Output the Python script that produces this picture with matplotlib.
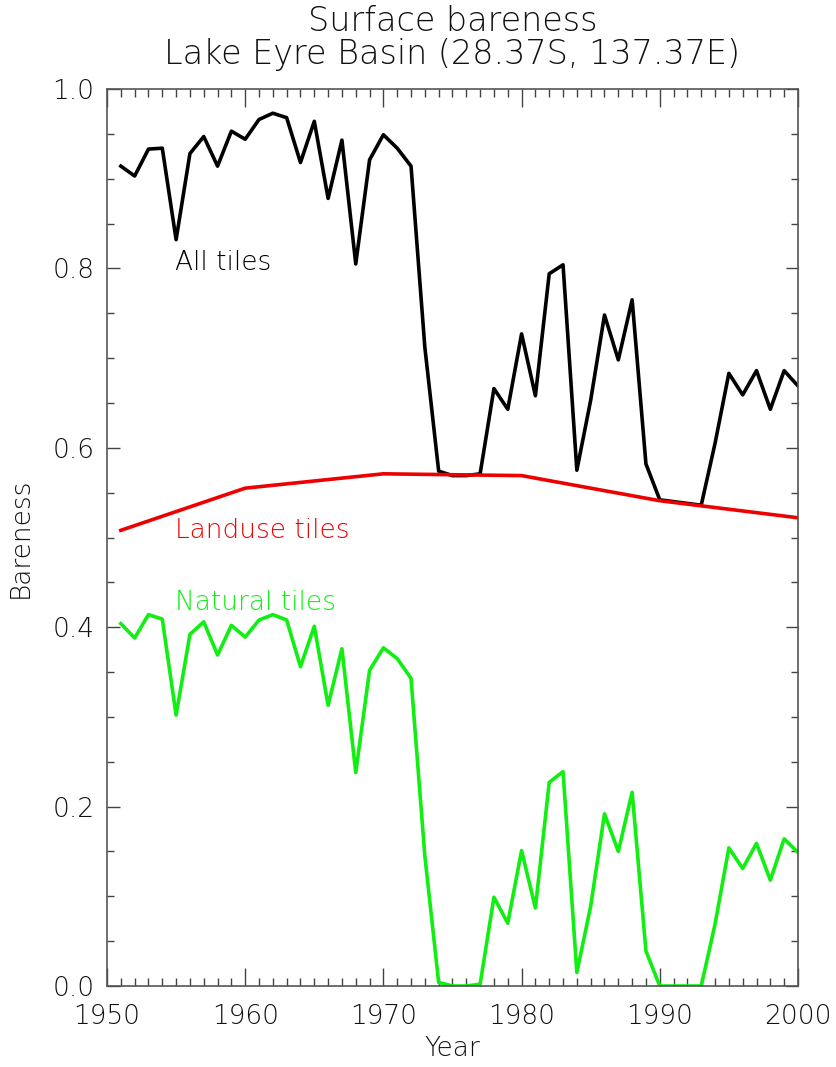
# Surface bareness time series for the Lake Eyre Basin grid cell
import matplotlib.pyplot as plt
from matplotlib.ticker import MultipleLocator

years = list(range(1951, 2001))

all_tiles = [0.914, 0.903, 0.933, 0.934, 0.832, 0.928, 0.947, 0.914, 0.953, 0.944,
             0.966, 0.973, 0.968, 0.918, 0.964, 0.878, 0.943, 0.805, 0.921, 0.949,
             0.934, 0.914, 0.712, 0.574, 0.569, 0.569, 0.571, 0.666, 0.643, 0.727,
             0.658, 0.794, 0.804, 0.575, 0.653, 0.748, 0.698, 0.765, 0.582, 0.542,
             0.540, 0.538, 0.536, 0.605, 0.683, 0.659, 0.686, 0.643, 0.686, 0.669]

natural_tiles = [0.404, 0.388, 0.414, 0.409, 0.302, 0.392, 0.406, 0.369, 0.402, 0.389,
                 0.408, 0.414, 0.408, 0.356, 0.401, 0.313, 0.376, 0.238, 0.352, 0.377,
                 0.365, 0.343, 0.145, 0.004, 0.000, 0.000, 0.002, 0.099, 0.070, 0.151,
                 0.087, 0.227, 0.239, 0.015, 0.089, 0.192, 0.150, 0.216, 0.039, 0.000,
                 0.000, 0.000, 0.000, 0.069, 0.154, 0.131, 0.159, 0.118, 0.164, 0.149]

# land use fraction is only given at these years
landuse_years = [1951, 1960, 1970, 1980, 1990, 2000]
landuse_tiles = [0.508, 0.555, 0.571, 0.569, 0.541, 0.522]

plt.rcParams['font.family'] = ['DejaVu Sans']
plt.rcParams['font.weight'] = 'light'
plt.rcParams['axes.titleweight'] = 'light'
plt.rcParams['axes.labelweight'] = 'light'
text_col = '#111111'

fig = plt.figure(figsize=(8.36, 10.67), dpi=100)
ax = fig.add_axes([0.128, 0.0759, 0.8265, 0.8407])

ax.plot(years, all_tiles, color='black', lw=2.6)
ax.plot(landuse_years, landuse_tiles, color='#ee0000', lw=2.6)
ax.plot(years, natural_tiles, color='#11ee11', lw=2.6)

ax.text(1954.9, 0.807, 'All tiles', color='black', fontsize=19, va='center')
ax.text(1954.9, 0.508, 'Landuse tiles', color='#ee0000', fontsize=19, va='center')
ax.text(1954.9, 0.428, 'Natural tiles', color='#11ee11', fontsize=19, va='center')

ax.set_xlim(1950, 2000)
ax.set_ylim(0, 1.0)
ax.xaxis.set_major_locator(MultipleLocator(10))
ax.xaxis.set_minor_locator(MultipleLocator(1))
ax.yaxis.set_major_locator(MultipleLocator(0.2))
ax.yaxis.set_minor_locator(MultipleLocator(0.05))
ax.yaxis.set_major_formatter(lambda v, pos: f'{v:.1f}')

ax.tick_params(which='both', direction='in', top=True, right=True,
               color='#444444', labelcolor=text_col, labelsize=19)
ax.tick_params(axis='x', which='major', length=13, width=1, pad=13)
ax.tick_params(axis='x', which='minor', length=6, width=1)
ax.tick_params(axis='y', which='major', length=9, width=1, pad=9)
ax.tick_params(axis='y', which='minor', length=5, width=1)
for s in ax.spines.values():
    s.set_color('#555555')
    s.set_linewidth(1.2)

ax.set_xlabel('Year', fontsize=19, color=text_col, labelpad=5)
ax.set_ylabel('Bareness', fontsize=19, color=text_col, labelpad=14)
ax.set_title('Surface bareness\nLake Eyre Basin (28.37S, 137.37E)',
             fontsize=24, color=text_col, pad=18, linespacing=1.0)

fig.savefig('out.png', dpi=100)
